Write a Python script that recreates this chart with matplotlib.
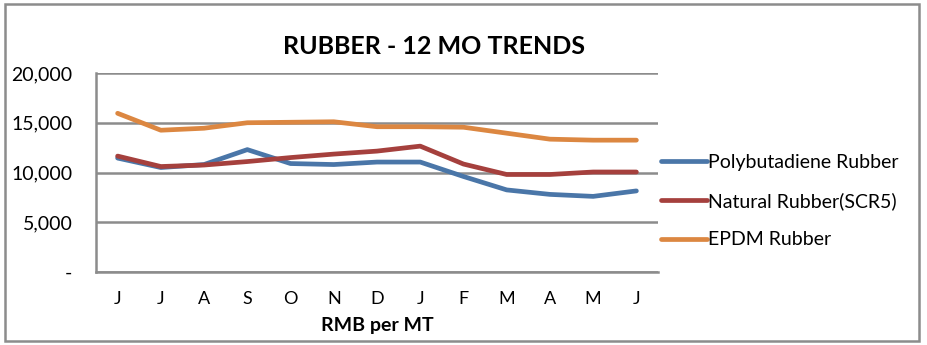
import matplotlib.pyplot as plt
from matplotlib.patches import Rectangle
from matplotlib.ticker import FuncFormatter

plt.rcParams['font.family'] = ['Lato', 'DejaVu Sans']

# months Jun..Jun, prices in RMB per MT
months = ['J', 'J', 'A', 'S', 'O', 'N', 'D', 'J', 'F', 'M', 'A', 'M', 'J']
polybutadiene = [11450, 10500, 10800, 12300, 10900, 10800, 11050, 11050, 9600, 8250, 7800, 7600, 8150]
natural_scr5 = [11650, 10600, 10750, 11100, 11500, 11850, 12150, 12650, 10850, 9800, 9800, 10050, 10050]
epdm = [15950, 14250, 14450, 15000, 15050, 15100, 14600, 14600, 14550, 13950, 13350, 13250, 13250]

series_names = ['Polybutadiene Rubber', 'Natural Rubber(SCR5)', 'EPDM Rubber']
colors = ['#4a76a8', '#a5403d', '#dc8741']


def fmt(v, pos):
    if v == 0:
        return '-'
    return '{:,.0f}'.format(v)


fig = plt.figure(figsize=(9.27, 3.45), dpi=100)
ax = fig.add_axes([96 / 927, 73 / 345, 562 / 927, 199 / 345])

x = range(len(months))
for vals, name, c in zip([polybutadiene, natural_scr5, epdm], series_names, colors):
    ax.plot(x, vals, color=c, lw=3.4, label=name, solid_capstyle='round')

ax.set_xlim(-0.5, len(months) - 0.5)
ax.set_ylim(0, 20000)
ax.set_yticks([0, 5000, 10000, 15000, 20000])
ax.yaxis.set_major_formatter(FuncFormatter(fmt))
ax.set_xticks(list(x))
ax.set_xticklabels(months)
ax.tick_params(axis='both', length=0)
ax.tick_params(axis='y', pad=17, labelsize=14)
ax.tick_params(axis='x', pad=14, labelsize=13)
ax.grid(axis='y', color='#8c8c8c', lw=1.8)
ax.set_axisbelow(True)
for s in ['top', 'right']:
    ax.spines[s].set_visible(False)
for s in ['left', 'bottom']:
    ax.spines[s].set_color('#8c8c8c')
    ax.spines[s].set_linewidth(1.8)

ax.set_xlabel('RMB per MT', fontsize=14, fontweight='bold', labelpad=7)
fig.text(434 / 927, 1 - 46 / 345, 'RUBBER - 12 MO TRENDS', fontsize=18,
         fontweight='bold', ha='center', va='center')

fig.legend(loc='center left', bbox_to_anchor=(643 / 927, 1 - 201 / 345),
           frameon=False, fontsize=14, handlelength=2.4, handletextpad=0.05,
           labelspacing=1.1)

fig.patches.append(Rectangle((5 / 927, 4 / 345), 914 / 927, 337 / 345,
                             transform=fig.transFigure, fill=False,
                             edgecolor='#8c8c8c', lw=1.8))

fig.savefig('out.png', dpi=100)
